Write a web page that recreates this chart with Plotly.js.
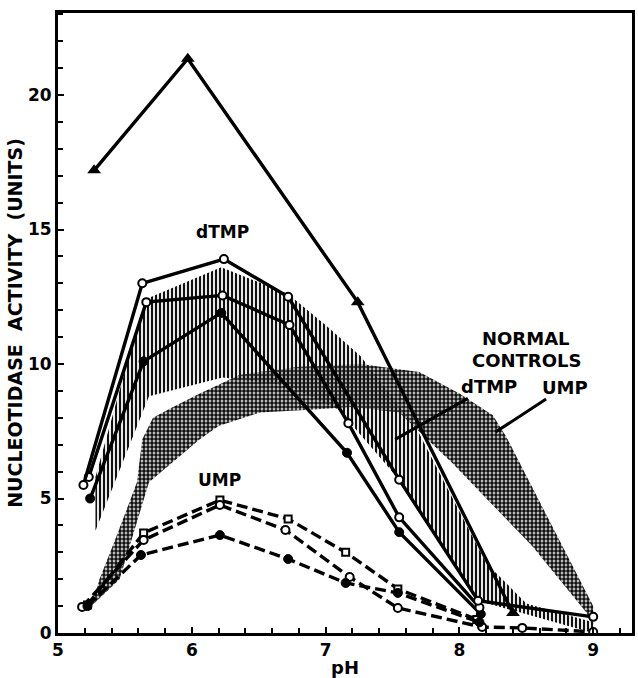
<!DOCTYPE html>
<html>
<head>
<meta charset="utf-8">
<script src="https://cdn.plot.ly/plotly-3.0.1.min.js"></script>
<style>html,body{margin:0;padding:0;background:#fff;}#chart{width:638px;height:678px;}</style>
</head>
<body>
<div id="chart"></div>
<script>
// Patient series, dTMP substrate (solid lines)
const triX = [5.27, 5.97, 7.24, 8.40];
const triY = [17.2, 21.35, 12.3, 0.74];
const dtmpAX = [5.19, 5.63, 6.24, 6.72, 7.55, 8.14, 9.0];
const dtmpAY = [5.5, 13.0, 13.9, 12.5, 5.7, 1.2, 0.6];
const dtmpBX = [5.23, 5.66, 6.23, 6.73, 7.17, 7.55, 8.15];
const dtmpBY = [5.8, 12.3, 12.55, 11.45, 7.8, 4.3, 0.95];
const dtmpCX = [5.24, 5.64, 6.22, 7.16, 7.55, 8.16];
const dtmpCY = [5.0, 10.1, 11.9, 6.7, 3.75, 0.7];
// Patient series, UMP substrate (dashed lines)
const umpAX = [5.22, 5.64, 6.21, 6.72, 7.15, 7.54, 8.13];
const umpAY = [1.04, 3.72, 4.94, 4.24, 3.0, 1.64, 0.5];
const umpBX = [5.18, 5.64, 6.21, 6.70, 7.18, 7.54, 8.17, 8.47, 9.0];
const umpBY = [0.97, 3.46, 4.76, 3.83, 2.08, 0.93, 0.22, 0.19, 0.04];
const umpCX = [5.22, 5.62, 6.21, 6.72, 7.15, 7.54, 8.15];
const umpCY = [1.0, 2.9, 3.64, 2.75, 1.86, 1.49, 0.4];
// Normal control ranges
const nDtmpHiX = [5.28, 5.65, 6.22, 6.72, 7.01, 7.26, 7.68, 8.2, 8.5, 9.0];
const nDtmpHiY = [5.8, 12.4, 13.6, 12.6, 11.4, 10.3, 7.6, 2.6, 1.1, 0.4];
const nDtmpLoX = [5.28, 5.68, 6.23, 6.72, 7.1, 7.55, 8.14, 9.0];
const nDtmpLoY = [3.8, 8.8, 9.5, 9.2, 8.3, 5.7, 1.2, 0.0];
const nUmpHiX = [5.25, 5.31, 5.43, 5.59, 5.63, 5.71, 5.86, 6.06, 6.36, 6.8, 7.26, 7.7, 8.0, 8.25, 8.35, 9.0];
const nUmpHiY = [1.0, 2.0, 3.5, 5.6, 7.2, 8.0, 8.4, 8.9, 9.6, 9.9, 10.0, 9.7, 8.9, 8.1, 7.3, 1.0];
const nUmpLoX = [5.25, 5.46, 5.55, 5.68, 6.06, 6.2, 6.51, 6.88, 7.2, 7.55, 7.95, 8.55, 8.95, 9.0];
const nUmpLoY = [1.0, 2.0, 3.5, 5.6, 7.2, 7.7, 8.2, 8.3, 8.4, 8.2, 6.3, 3.2, 0.75, 0.2];
// Axis ticks
const xTicks = [5, 6, 7, 8, 9];
const yTicks = [0, 5, 10, 15, 20];

function band(hx, hy, lx, ly) {
  return { x: hx.concat(lx.slice().reverse()), y: hy.concat(ly.slice().reverse()) };
}
const F = 'DejaVu Sans, Liberation Sans, sans-serif';
const bU = band(nUmpHiX, nUmpHiY, nUmpLoX, nUmpLoY);
const bD = band(nDtmpHiX, nDtmpHiY, nDtmpLoX, nDtmpLoY);

const openC = {symbol: 'circle', size: 8, color: 'white', line: {color: 'black', width: 2}};
const solidC = {symbol: 'circle', size: 9, color: 'black', line: {color: 'black', width: 1}};
const dashS = '11px,5px';
const LW = 3.4;

const traces = [
  {x: bU.x, y: bU.y, mode: 'lines', fill: 'toself', line: {width: 0, color: 'rgba(0,0,0,0)'},
   fillcolor: 'rgba(0,0,0,0)', fillpattern: {shape: '.', size: 4, solidity: 0.72, fgcolor: '#111', bgcolor: 'rgba(255,255,255,0)'}},
  {x: bD.x, y: bD.y, mode: 'lines', fill: 'toself', line: {width: 0, color: 'rgba(0,0,0,0)'},
   fillcolor: 'rgba(0,0,0,0)', fillpattern: {shape: '|', size: 4, solidity: 0.55, fgcolor: '#111', bgcolor: 'rgba(255,255,255,0)'}},
  {x: umpAX, y: umpAY, mode: 'lines+markers', line: {color: 'black', width: LW, dash: dashS}, marker: {symbol: 'square', size: 7, color: 'white', line: {color: 'black', width: 2}}},
  {x: umpBX, y: umpBY, mode: 'lines+markers', line: {color: 'black', width: LW, dash: dashS}, marker: openC},
  {x: umpCX, y: umpCY, mode: 'lines+markers', line: {color: 'black', width: LW, dash: dashS}, marker: solidC},
  {x: dtmpCX, y: dtmpCY, mode: 'lines+markers', line: {color: 'black', width: LW}, marker: solidC},
  {x: dtmpBX, y: dtmpBY, mode: 'lines+markers', line: {color: 'black', width: LW}, marker: openC},
  {x: dtmpAX, y: dtmpAY, mode: 'lines+markers', line: {color: 'black', width: LW}, marker: openC},
  {x: triX, y: triY, mode: 'lines+markers', line: {color: 'black', width: LW}, marker: {symbol: 'triangle-up', size: 12, color: 'black'}}
];

const tf = {family: F, size: 17, color: 'black', weight: 'bold'};
const layout = {
  width: 638, height: 678,
  margin: {l: 58, r: 6, t: 13, b: 45},
  paper_bgcolor: 'white', plot_bgcolor: 'white',
  showlegend: false,
  xaxis: {
    range: [5, 9.29], tickvals: xTicks, ticks: 'inside', ticklen: 6, tickwidth: 2, tickcolor: 'black',
    minor: {dtick: 0.2, tick0: 5, ticks: 'inside', ticklen: 5, tickwidth: 2, tickcolor: 'black', showgrid: false},
    showline: true, linewidth: 3, linecolor: 'black', mirror: true, showgrid: false, zeroline: false,
    tickfont: tf, title: {text: 'pH', font: {family: F, size: 18, color: 'black', weight: 'bold'}, standoff: 2}
  },
  yaxis: {
    range: [0, 23.05], tickvals: yTicks, ticks: 'inside', ticklen: 6, tickwidth: 2, tickcolor: 'black',
    minor: {dtick: 1, tick0: 0, ticks: 'inside', ticklen: 5, tickwidth: 2, tickcolor: 'black', showgrid: false},
    showline: true, linewidth: 3, linecolor: 'black', mirror: true, showgrid: false, zeroline: false,
    tickfont: tf,
    title: {text: 'NUCLEOTIDASE\u00A0\u00A0ACTIVITY\u00A0\u00A0(UNITS)', font: {family: F, size: 19, color: 'black', weight: 'bold'}, standoff: 1}
  },
  annotations: [
    {x: 6.23, y: 14.9, text: 'dTMP', showarrow: false, font: {family: F, size: 17, color: 'black', weight: 'bold'}},
    {x: 6.21, y: 5.7, text: 'UMP', showarrow: false, font: {family: F, size: 17, color: 'black', weight: 'bold'}},
    {x: 8.5, y: 10.95, text: 'NORMAL', showarrow: false, font: {family: F, size: 18, color: 'black', weight: 'bold'}},
    {x: 8.5, y: 10.12, text: 'CONTROLS', showarrow: false, font: {family: F, size: 18, color: 'black', weight: 'bold'}},
    {x: 7.52, y: 7.2, text: 'dTMP', showarrow: true, arrowhead: 0, arrowwidth: 3, arrowcolor: 'black', ax: 94, ay: -53, standoff: 0,
     font: {family: F, size: 18, color: 'black', weight: 'bold'}},
    {x: 8.27, y: 7.47, text: 'UMP', showarrow: true, arrowhead: 0, arrowwidth: 3, arrowcolor: 'black', ax: 69, ay: -45, standoff: 0,
     font: {family: F, size: 18, color: 'black', weight: 'bold'}}
  ]
};

Plotly.newPlot('chart', traces, layout, {displayModeBar: false, staticPlot: true});
</script>
</body>
</html>
